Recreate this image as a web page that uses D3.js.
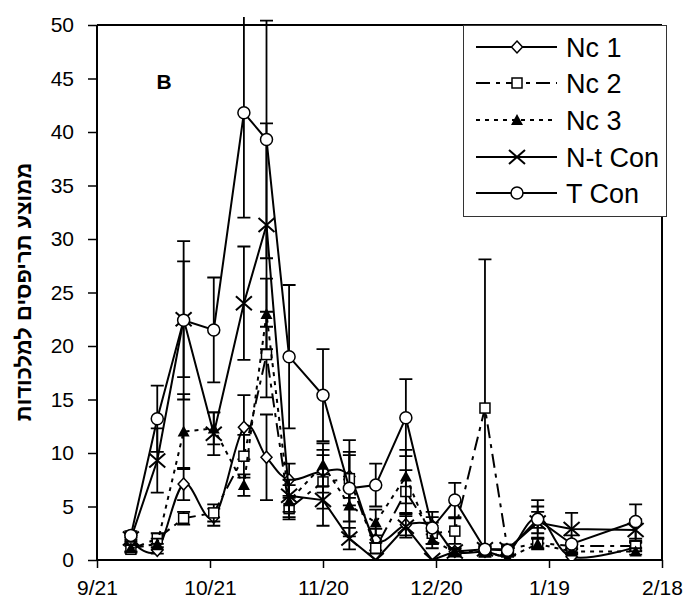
<!DOCTYPE html>
<html><head><meta charset="utf-8">
<script src="https://cdn.jsdelivr.net/npm/d3@7"></script>
<style>body{margin:0;background:#fff} svg text{font-family:"Liberation Sans",Arial,sans-serif;fill:#000}</style>
</head><body><svg id="c" width="696" height="608"></svg>
<script>
// ---------- DATA ----------
const dates = ["2001-09-30","2001-10-07","2001-10-14","2001-10-22","2001-10-30","2001-11-05","2001-11-11","2001-11-20","2001-11-27","2001-12-04","2001-12-12","2001-12-19","2001-12-25","2002-01-02","2002-01-08","2002-01-16","2002-01-25","2002-02-11"];
const tickDates = ["2001-09-21","2001-10-21","2001-11-20","2001-12-20","2002-01-19","2002-02-18"];
const tickLabels = ["9/21","10/21","11/20","12/20","1/19","2/18"];
const yTicks = [0,5,10,15,20,25,30,35,40,45,50];
const seriesNames = ["Nc 1","Nc 2","Nc 3","N-t Con","T Con"];

const nc1    = [1.8,0.9,7.1,4.0,12.4,9.6,7.5,8.3,7.8,1.9,3.3,3.2,0.8,0.8,0.6,4.0,0.3,1.2];
const nc1Err = [0.3,0.3,1.5,0.8,3.0,4.0,1.5,2.0,2.0,1.0,1.0,0.8,0.3,0.3,0.3,1.0,0.3,0.4];
const nc2    = [1.0,2.0,3.9,4.4,9.7,19.2,4.8,7.3,7.6,1.1,6.4,2.5,2.7,14.2,1.0,1.6,1.3,1.3];
const nc2Err = [0.3,0.5,0.6,0.8,2.0,4.0,1.0,2.5,2.5,0.5,2.0,1.0,1.2,13.9,0.3,0.5,0.3,0.4];
const nc3    = [1.1,1.5,12.0,12.3,7.0,23.0,5.5,8.9,5.1,3.5,7.8,1.9,0.7,0.8,0.2,1.5,0.8,0.8];
const nc3Err = [0.3,0.5,3.5,1.5,1.0,3.3,1.5,2.0,1.5,1.2,2.5,0.8,0.3,0.3,0.2,0.5,0.3,0.3];
const ntCon    = [2.0,9.3,22.5,11.8,24.0,31.3,6.0,5.6,2.0,0.0,3.1,0.0,0.8,1.0,1.0,3.5,2.9,2.8];
const ntConErr = [0.3,3.0,5.4,2.0,5.3,9.5,1.5,2.4,1.0,0.0,1.0,0.0,0.3,0.3,0.3,1.0,1.5,1.0];
const tCon    = [2.3,13.2,22.4,21.5,41.8,39.3,19.0,15.4,6.7,7.0,13.3,3.0,5.6,1.0,0.9,3.8,1.5,3.6];
const tConErr = [0.4,3.1,7.4,4.9,9.8,11.1,6.7,4.3,4.5,2.0,3.6,1.5,1.6,0.3,0.3,1.8,0.8,1.6];

// ---------- CHART ----------
const parse = d3.utcParse("%Y-%m-%d");
const m = {left: 97, right: 662, top: 25, bottom: 560};
const svg = d3.select("#c");

const x = d3.scaleUtc().domain([parse(tickDates[0]), parse(tickDates[tickDates.length-1])]).range([m.left, m.right]);
const y = d3.scaleLinear().domain([0, 50]).range([m.bottom, m.top]);

svg.append("defs").append("clipPath").attr("id","clip")
  .append("rect").attr("x", m.left - 20).attr("y", 17).attr("width", m.right - m.left + 40).attr("height", m.bottom - 17);

// frame (top & right)
svg.append("line").attr("x1", m.left).attr("x2", m.right).attr("y1", m.top).attr("y2", m.top).attr("stroke","#000").attr("stroke-width",2);
svg.append("line").attr("x1", m.right).attr("x2", m.right).attr("y1", m.top).attr("y2", m.bottom).attr("stroke","#000").attr("stroke-width",2);

// axes
const yAxis = d3.axisLeft(y).tickValues(yTicks).tickSize(9).tickPadding(14).tickFormat(d3.format("d"));
const gy = svg.append("g").attr("transform", `translate(${m.left},0)`).call(yAxis);
gy.select(".domain").attr("stroke-width", 2).attr("d", `M-0,${m.top}V${m.bottom}`);
gy.selectAll(".tick line").attr("stroke-width", 1.5);
gy.selectAll(".tick text").style("font-size","21px");

const xAxis = d3.axisBottom(x).tickValues(tickDates.map(parse)).tickSize(8).tickPadding(12)
  .tickFormat((d,i) => tickLabels[i]);
const gx = svg.append("g").attr("transform", `translate(0,${m.bottom})`).call(xAxis);
gx.select(".domain").attr("stroke-width", 2).attr("d", `M${m.left},0H${m.right}`);
gx.selectAll(".tick line").attr("stroke-width", 1.5);
gx.selectAll(".tick text").style("font-size","21px");

// y label
svg.append("text").attr("transform", "translate(31,292) rotate(-90)")
  .attr("text-anchor","middle").style("font-size","22px").style("font-weight","bold")
  .text("ממוצע תריפסים למלכודות");

svg.append("text").attr("x", 164).attr("y", 89).attr("text-anchor","middle")
  .style("font-size","21px").style("font-weight","bold").text("B");

// markers
function marker(g, type, cx, cy) {
  if (type === "diamond") {
    g.append("path").attr("d", `M${cx},${cy-6}L${cx+5.5},${cy}L${cx},${cy+6}L${cx-5.5},${cy}Z`)
      .attr("fill","#fff").attr("stroke","#000").attr("stroke-width",1.5);
  } else if (type === "square") {
    g.append("rect").attr("x", cx-5).attr("y", cy-5).attr("width",10).attr("height",10)
      .attr("fill","#fff").attr("stroke","#000").attr("stroke-width",1.5);
  } else if (type === "triangle") {
    g.append("path").attr("d", `M${cx},${cy-6}L${cx+6},${cy+5}L${cx-6},${cy+5}Z`).attr("fill","#000");
  } else if (type === "x") {
    g.append("path").attr("d", `M${cx-8},${cy-7}L${cx+8},${cy+7}M${cx-8},${cy+7}L${cx+8},${cy-7}`)
      .attr("stroke","#000").attr("stroke-width",2).attr("fill","none");
  } else if (type === "circle") {
    g.append("circle").attr("cx", cx).attr("cy", cy).attr("r", 6)
      .attr("fill","#fff").attr("stroke","#000").attr("stroke-width",1.5);
  }
}

const series = [
  {name: seriesNames[0], vals: nc1, err: nc1Err, marker: "diamond", dash: null, curve: d3.curveCatmullRom.alpha(0)},
  {name: seriesNames[1], vals: nc2, err: nc2Err, marker: "square", dash: "14,6,4,6", curve: d3.curveLinear},
  {name: seriesNames[2], vals: nc3, err: nc3Err, marker: "triangle", dash: "4,5", curve: d3.curveLinear},
  {name: seriesNames[3], vals: ntCon, err: ntConErr, marker: "x", dash: null, curve: d3.curveLinear},
  {name: seriesNames[4], vals: tCon, err: tConErr, marker: "circle", dash: null, curve: d3.curveLinear}
];

const plot = svg.append("g").attr("clip-path","url(#clip)");
series.forEach(s => {
  const pts = dates.map((d,i) => ({d: parse(d), v: s.vals[i], e: s.err[i]}));
  const g = plot.append("g");
  g.append("path").datum(pts)
    .attr("d", d3.line().x(p => x(p.d)).y(p => y(p.v)).curve(s.curve))
    .attr("fill","none").attr("stroke","#000").attr("stroke-width",2)
    .attr("stroke-dasharray", s.dash);
  pts.forEach(p => {
    if (p.e <= 0) return;
    const cx = x(p.d), y1 = y(p.v + p.e), y0 = y(p.v - p.e);
    g.append("path").attr("d", `M${cx},${y0}V${y1}M${cx-6.5},${y1}H${cx+6.5}M${cx-6.5},${y0}H${cx+6.5}`)
      .attr("stroke","#000").attr("stroke-width",1.8).attr("fill","none");
  });
  pts.forEach(p => marker(g, s.marker, x(p.d), y(p.v)));
});

// legend
const lg = svg.append("g");
lg.append("rect").attr("x", 463.5).attr("y", 25.5).attr("width", 203).attr("height", 191)
  .attr("fill","#fff").attr("stroke","#333").attr("stroke-width",1);
const rowY = [47, 83, 120, 157, 193];
series.forEach((s,i) => {
  const ry = rowY[i];
  lg.append("line").attr("x1", 476).attr("x2", 557).attr("y1", ry).attr("y2", ry)
    .attr("stroke","#000").attr("stroke-width",2).attr("stroke-dasharray", s.dash);
  marker(lg, s.marker, 517, ry);
  lg.append("text").attr("x", 566).attr("y", ry + 10).style("font-size","27px").text(s.name);
});
</script>
</body></html>
